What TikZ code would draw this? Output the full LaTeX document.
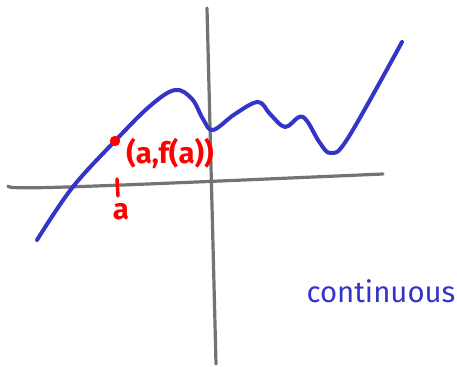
\documentclass[tikz,border=0pt]{standalone}
\usepackage{fontspec}
\setsansfont{Fira Sans}
\definecolor{penblue}{RGB}{52,52,200}
\begin{document}
\begin{tikzpicture}[x=0.75pt,y=-0.75pt,
  axis/.style={draw=gray!90!black,line width=2.4pt,line cap=round},
  curve/.style={draw=penblue,line width=3pt,line cap=round,line join=round},
  redpen/.style={red,font=\sffamily\bfseries\fontsize{22}{24}\selectfont},
  bluepen/.style={penblue,font=\sffamily\fontsize{22}{24}\selectfont}]
\useasboundingbox (0,0) rectangle (457,367);
% axes
\coordinate (xl) at (8,186);
\coordinate (xr) at (383,174);
\coordinate (yt) at (207,8);
\coordinate (yb) at (216,364);
\draw[axis] (xl) .. controls (8,190) and (60,188) .. (xr);
\draw[axis] (yt) -- (yb);
% function
\draw[curve] plot[smooth,tension=0.6] coordinates {(37,240) (72,188) (115,141) (150,106) (175,90) (192,99) (203,119) (213,130) (235,114) (258,102) (270,114) (285,127) (299,117) (307,121) (320,143) (331,153) (348,138) (402,42)};
% point a
\fill[red] (115,141) circle (5.2) node (pa) {};
\node[redpen] (lab) at (170,153) {(a,f(a))};
\coordinate (tk1) at (117,179);
\coordinate (tk2) at (118,196);
\draw[red,line width=2.6pt,line cap=round] (tk1) -- (tk2);
\node[redpen] (ta) at (121,212) {a};
\node[bluepen] (txt) at (381,291) {continuous};
\end{tikzpicture}
\end{document}
